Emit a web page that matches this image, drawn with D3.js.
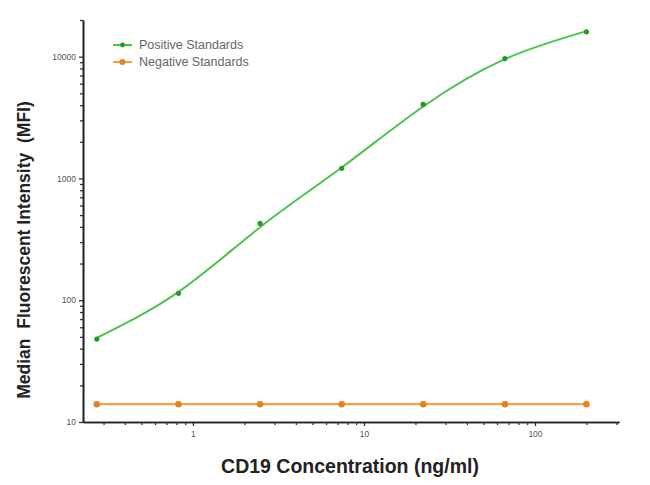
<!DOCTYPE html>
<html>
<head>
<meta charset="utf-8">
<script src="https://cdn.jsdelivr.net/npm/d3@7"></script>
<style>
  body { margin: 0; background: #fff; }
  svg { font-family: "Liberation Sans", Arial, sans-serif; }
</style>
</head>
<body>
<svg id="chart" width="650" height="485"></svg>
<script>
// Data ***********************************************************************
// concentrations (ng/ml), 3-fold dilutions
var conc = [0.274, 0.823, 2.47, 7.41, 22.2, 66.7, 200];
// measured MFI
var posValues = [48, 114, 427, 1210, 4050, 9640, 16000];
var negValues = [14, 14, 14, 14, 14, 14, 14];
// fitted curve at the same concentrations
var posFit = [49, 117, 398, 1230, 3900, 9550, 16200];

var xMajor = [1, 10, 100];
var xMinor = [0.3, 0.4, 0.5, 0.6, 0.7, 0.8, 0.9, 2, 3, 4, 5, 6, 7, 8, 9,
              20, 30, 40, 50, 60, 70, 80, 90, 200, 300];
var yMajor = [10, 100, 1000, 10000];
var yMinor = [20, 30, 40, 50, 60, 70, 80, 90, 200, 300, 400, 500, 600, 700, 800, 900,
              2000, 3000, 4000, 5000, 6000, 7000, 8000, 9000, 20000];

var seriesNames = ["Positive Standards", "Negative Standards"];
var lineCol = ["#4cc34c", "#f5a04a"];
var dotCol = ["#249a24", "#e8801e"];

// Setup **********************************************************************
var svg = d3.select("#chart");

var x = d3.scaleLog().domain([0.2275, 310]).range([83, 619]);
var y = d3.scaleLog().domain([10, 20000]).range([422, 20]);

// axes
var xAxis = svg.append("g").attr("transform", "translate(0,422)")
    .call(d3.axisBottom(x).tickValues(xMajor).tickFormat(d3.format("d")).tickSize(4).tickSizeOuter(0));
svg.append("g").attr("transform", "translate(0,422)")
    .call(d3.axisBottom(x).tickValues(xMinor).tickFormat("").tickSize(3).tickSizeOuter(0));

var yAxis = svg.append("g").attr("transform", "translate(83,0)")
    .call(d3.axisLeft(y).tickValues(yMajor).tickFormat(d3.format("d")).tickSize(4).tickSizeOuter(0));
svg.append("g").attr("transform", "translate(83,0)")
    .call(d3.axisLeft(y).tickValues(yMinor).tickFormat("").tickSize(3).tickSizeOuter(0));

svg.selectAll(".domain").style("stroke", "#222").style("stroke-width", 1.6);
svg.selectAll(".tick line").style("stroke", "#333").style("stroke-width", 1.3);
svg.selectAll(".tick text").style("font-size", "8.5px").style("fill", "#555");
xAxis.selectAll(".tick text").attr("dy", "0.9em");

// lines and points ***********************************************************
var negLine = d3.line()
    .x(function(d, i){ return x(conc[i]); })
    .y(function(d){ return y(d); });

var fitLine = d3.line()
    .x(function(d, i){ return x(conc[i]); })
    .y(function(d){ return y(d); })
    .curve(d3.curveNatural);

svg.append("path").datum(negValues)
    .attr("d", negLine)
    .style("fill", "none").style("stroke", lineCol[1]).style("stroke-width", 2.2);

svg.selectAll(".negDot").data(negValues).enter().append("circle")
    .attr("cx", function(d, i){ return x(conc[i]); })
    .attr("cy", function(d){ return y(d); })
    .attr("r", 3.3).style("fill", dotCol[1]);

svg.append("path").datum(posFit)
    .attr("d", fitLine)
    .style("fill", "none").style("stroke", lineCol[0]).style("stroke-width", 2);

svg.selectAll(".posDot").data(posValues).enter().append("circle")
    .attr("cx", function(d, i){ return x(conc[i]); })
    .attr("cy", function(d){ return y(d); })
    .attr("r", 2.6).style("fill", dotCol[0]);

// legend *********************************************************************
var yLegend_Pos = 45;
for (var key = 0; key < seriesNames.length; key++){
    svg.append("line").attr("x1", 113).attr("x2", 132).attr("y1", yLegend_Pos).attr("y2", yLegend_Pos)
        .style("stroke", lineCol[key]).style("stroke-width", 2);
    svg.append("circle").attr("cx", 122.5).attr("cy", yLegend_Pos).attr("r", key == 0 ? 2.4 : 3)
        .style("fill", dotCol[key]);
    svg.append("text").attr("x", 139).attr("y", yLegend_Pos).attr("dy", "0.35em")
        .text(seriesNames[key]).style("font-size", "12.5px").style("fill", "#666");
    yLegend_Pos = yLegend_Pos + 17;
}

// titles *********************************************************************
svg.append("text")
    .attr("x", 350).attr("y", 473)
    .attr("text-anchor", "middle")
    .text("CD19 Concentration (ng/ml)")
    .style("font-size", "19.5px").style("font-weight", "bold").style("fill", "#222");

svg.append("text")
    .attr("transform", "translate(30,250) rotate(-90)")
    .attr("text-anchor", "middle")
    .text("Median  Fluorescent Intensity  (MFI)")
    .style("font-size", "17.5px").style("font-weight", "bold").style("fill", "#222")
    .style("white-space", "pre");
</script>
</body>
</html>
